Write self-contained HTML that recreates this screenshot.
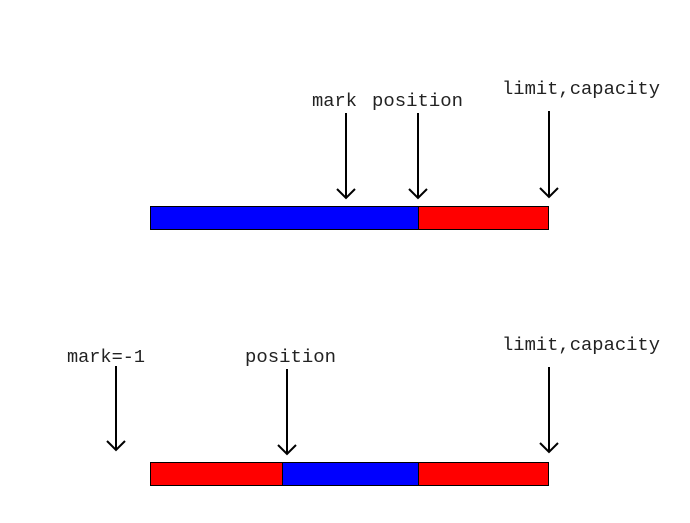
<!DOCTYPE html>
<html><head><style>html,body{margin:0;padding:0;background:#fff}</style></head>
<body>
<svg width="690" height="518" xmlns="http://www.w3.org/2000/svg" font-family="Liberation Mono, monospace" font-size="18" fill="#222">
<g stroke="#000" stroke-width="1">
<rect x="150.5" y="206.5" width="268" height="23" fill="#0000ff"/>
<rect x="418.5" y="206.5" width="130" height="23" fill="#ff0000"/>
<rect x="150.5" y="462.5" width="132" height="23" fill="#ff0000"/>
<rect x="282.5" y="462.5" width="136" height="23" fill="#0000ff"/>
<rect x="418.5" y="462.5" width="130" height="23" fill="#ff0000"/>
</g>
<g stroke="#000" stroke-width="2" fill="none">
<path d="M346 113V198M337 189L346 198L355 189"/>
<path d="M418 113V198M409 189L418 198L427 189"/>
<path d="M549 111V197M540 188L549 197L558 188"/>
<path d="M116 366V450M107 441L116 450L125 441"/>
<path d="M287 369V454M278 445L287 454L296 445"/>
<path d="M549 367V452M540 443L549 452L558 443"/>
</g>
<text x="312" y="106" textLength="45" lengthAdjust="spacingAndGlyphs">mark</text>
<text x="372" y="106" textLength="91" lengthAdjust="spacingAndGlyphs">position</text>
<text x="502" y="94" textLength="158" lengthAdjust="spacingAndGlyphs">limit,capacity</text>
<text x="67" y="362" textLength="78" lengthAdjust="spacingAndGlyphs">mark=-1</text>
<text x="245" y="362" textLength="91" lengthAdjust="spacingAndGlyphs">position</text>
<text x="502" y="350" textLength="158" lengthAdjust="spacingAndGlyphs">limit,capacity</text>
</svg>
</body></html>
